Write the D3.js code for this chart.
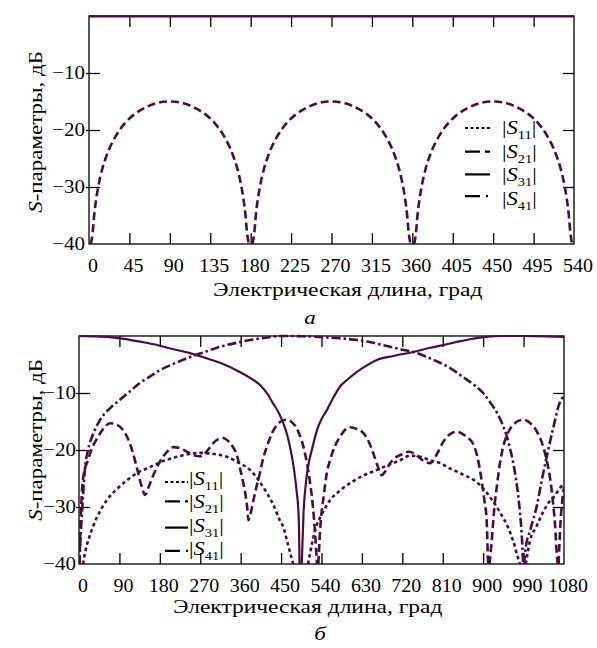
<!DOCTYPE html>
<html><head><meta charset="utf-8">
<script src="https://cdn.jsdelivr.net/npm/d3@7"></script>
<style>html,body{margin:0;padding:0;background:#fff}svg{display:block}</style>
</head><body>
<svg id="c" width="597" height="648"></svg>
<script>
// ---------- DATA ----------
const topXTicks = [0,45,90,135,180,225,270,315,360,405,450,495,540];
const botXTicks = [0,90,180,270,360,450,540,630,720,810,900,990,1080];
const yTicks = [-10,-20,-30,-40];
const seriesNames = ["S11","S21","S31","S41"];

// Chart "а": [electrical length, dB]
const topS21 = [
 [2,-40],[4,-38.1],[6,-34.6],[8,-32.1],[10,-30.2],[15,-26.7],[20,-24.3],[30,-21],[40,-18.8],[50,-17.3],[60,-16.3],[75,-15.3],[90,-15],
 [105,-15.3],[120,-16.3],[130,-17.3],[140,-18.8],[150,-21],[160,-24.3],[165,-26.7],[170,-30.2],[172,-32.1],[174,-34.6],[176,-38.1],[178,-40],[180,null],
 [182,-40],[184,-38.1],[186,-34.6],[188,-32.1],[190,-30.2],[195,-26.7],[200,-24.3],[210,-21],[220,-18.8],[230,-17.3],[240,-16.3],[255,-15.3],[270,-15],
 [285,-15.3],[300,-16.3],[310,-17.3],[320,-18.8],[330,-21],[340,-24.3],[345,-26.7],[350,-30.2],[352,-32.1],[354,-34.6],[356,-38.1],[358,-40],[360,null],
 [362,-40],[364,-38.1],[366,-34.6],[368,-32.1],[370,-30.2],[375,-26.7],[380,-24.3],[390,-21],[400,-18.8],[410,-17.3],[420,-16.3],[435,-15.3],[450,-15],
 [465,-15.3],[480,-16.3],[490,-17.3],[500,-18.8],[510,-21],[520,-24.3],[525,-26.7],[530,-30.2],[532,-32.1],[534,-34.6],[536,-38.1],[538,-40]
];
const topS31 = [[0,-0.05],[540,-0.05]];

// Chart "б": [electrical length, dB]
const botS11 = [
 [9,-40],[15,-37.5],[22,-35.5],[31,-33.5],[45,-31],[62,-28.8],[85,-26.8],[107,-25.3],[130,-24],[158,-23],[185,-22],[218,-21.2],[245,-20.7],[269,-20.5],
 [300,-20.7],[329,-21.2],[355,-22.2],[381,-23.5],[400,-25.3],[418,-27.5],[435,-30],[447,-32.3],[455,-33.5],[465,-36.5],[477,-40],[490,null],
 [510,-40],[520,-36],[528,-33.5],[537,-31.8],[548,-30.2],[559,-28.8],[580,-27.2],[604,-25.8],[630,-24.6],[663,-23.5],[690,-22.6],[715,-21.8],[737,-21],
 [760,-21.2],[782,-21.8],[804,-22.3],[825,-23.2],[842,-23.8],[860,-24.5],[878,-25.2],[895,-26.3],[908,-27.5],[920,-28.8],[938,-31],[955,-33.5],[967,-36],[976,-38.5],[982,-40],[988,null],
 [995,-40],[1004,-36],[1018,-33.5],[1033,-31],[1045,-29.3],[1056,-28.4],[1068,-27],[1080,-25.8]
];
const botS21 = [
 [1,-40],[3,-34],[6,-28],[10,-24.5],[20,-21.8],[30,-19.5],[40,-18],[55,-16.2],[69,-15.3],[85,-15.6],[98,-16.5],[110,-18.2],[120,-20.5],[130,-23.5],[140,-26.5],[147,-27.9],
 [155,-26.5],[165,-24.5],[177,-22.5],[187,-21.2],[200,-20],[210,-19.5],[225,-19.7],[240,-20.3],[255,-20.9],[269,-21.1],[285,-20.2],[299,-18.8],[310,-18.1],[321,-17.9],
 [333,-18.5],[343,-19.5],[352,-21],[358,-23],[365,-25.5],[370,-27.5],[375,-30.5],[377,-32.3],[381,-31.5],[388,-29],[395,-26.5],[403,-24],[410,-21.5],[418,-19.5],[430,-17],
 [441,-15.6],[452,-14.9],[463,-14.7],[475,-15.2],[485,-16.2],[492,-17.5],[500,-19.5],[508,-22.5],[515,-26],[521,-30],[526,-35],[530,-40],[531,null],
 [533,-40],[537,-34],[545,-28],[552,-24],[559,-21.8],[570,-19.3],[581,-17.7],[592,-16.5],[604,-16],[618,-16.3],[633,-17],[645,-18.5],[655,-20.5],[665,-22.8],[674,-24.4],
 [684,-23.5],[693,-22.3],[705,-21.3],[718,-20.8],[735,-20.3],[750,-20.8],[765,-21.8],[782,-22.3],[795,-21],[811,-18.6],[825,-17.3],[842,-16.8],[860,-17.5],[878,-19],
 [888,-21.5],[897,-25.6],[903,-29],[908,-32.6],[911,-39.6],[912,-40],[913,null],
 [914,-40],[919,-36],[925,-30],[930,-26.7],[937,-22.5],[944,-19.6],[955,-17],[967,-15.6],[978,-14.9],[989,-14.7],[1005,-15.3],[1020,-16.8],[1032,-19],[1042,-22],
 [1050,-25.5],[1056,-29.6],[1060,-33],[1064,-38.4],[1066,-40],[1067,null],
 [1068,-40],[1072,-33],[1076,-29],[1080,-26.5]
];
const botS31 = [
 [0,0],[30,-0.05],[69,-0.2],[100,-0.5],[136,-1.0],[170,-1.5],[203,-2.2],[247,-3.0],[280,-3.8],[314,-4.7],[358,-6.3],[380,-7.3],[403,-8.6],[420,-10.2],[432,-11.8],
 [445,-13.5],[455,-15.3],[463,-17.2],[470,-19.5],[476,-22],[481,-24.7],[485,-27.5],[488,-30],[490,-34],[491,-40],[493,null],
 [496,-40],[500,-31],[505,-26],[510,-23],[520,-19.5],[530,-16.5],[540,-14.6],[552,-13],[565,-11],[581,-8.9],[600,-7.5],[619,-6.3],[640,-5.2],[663,-4.2],[700,-3.5],
 [744,-2.8],[780,-2.1],[811,-1.6],[850,-0.9],[900,-0.2],[950,0],[989,0],[1040,-0.05],[1080,-0.15]
];
const botS41 = [
 [1,-40],[3,-36],[6,-32],[9,-28],[13,-23.5],[20,-20],[30,-17.5],[47,-14.7],[70,-12.6],[91,-11.2],[115,-9.6],[136,-8.2],[160,-7],[180,-6],[210,-4.9],[247,-3.7],
 [280,-2.8],[314,-1.9],[350,-1.2],[381,-0.7],[420,-0.25],[448,0],[470,0],[500,-0.05],[543,-0.2],[580,-0.4],[619,-0.7],[655,-1.2],[693,-1.9],[720,-2.4],[744,-2.8],
 [775,-3.7],[804,-4.7],[830,-5.8],[855,-7.2],[880,-8.6],[900,-10],[916,-11.7],[931,-13.5],[943,-15.5],[953,-17.7],[960,-19.8],[967,-22.3],[973,-25],[978,-28],
 [982,-31],[986,-35],[989,-40],[990,null],
 [991,-40],[995,-37],[1005,-34],[1020,-29.6],[1030,-25.5],[1042,-21],[1055,-16.5],[1071,-11.6],[1080,-10.5]
];

// ---------- DRAW ----------
const COL = "#4b0b46";
const FONT = "'Liberation Serif','Times New Roman',serif";
const styles = {
  S11: {dash:"3.5,3", w:2.6},
  S21: {dash:"8,4", w:2.6},
  S31: {dash:null, w:2.2},
  S41: {dash:"9,3,2.5,3", w:2.6}
};
const legendDash = {S11:"3,2.5", S21:"15,5", S31:null, S41:"15,6,2,10"};

const svg = d3.select("#c");

function txt(parent, x, y, anchor, fs, sy, rot) {
  return parent.append("text")
    .attr("transform", `translate(${x},${y})` + (rot ? ` rotate(${rot})` : "") + ` scale(1,${sy})`)
    .attr("text-anchor", anchor)
    .attr("font-family", FONT).attr("font-size", fs).attr("fill", "#000");
}

function chart(cfg) {
  const x = d3.scaleLinear().domain(cfg.xDomain).range([cfg.left, cfg.right]);
  const y = d3.scaleLinear().domain([-40, 0]).range([cfg.bottom, cfg.top]);
  const g = svg.append("g");
  const clipId = "clip" + cfg.id;
  svg.append("clipPath").attr("id", clipId).append("rect")
    .attr("x", cfg.left).attr("y", cfg.top - 3).attr("width", cfg.right - cfg.left).attr("height", cfg.bottom - cfg.top + 3);

  const xt = cfg.xTicks.slice(1, -1);
  g.append("g").attr("transform", `translate(0,${cfg.bottom})`)
    .call(d3.axisTop(x).tickValues(xt).tickSize(11).tickFormat(""))
    .call(a => a.select(".domain").remove());
  g.append("g").attr("transform", `translate(0,${cfg.top})`)
    .call(d3.axisBottom(x).tickValues(xt).tickSize(11).tickFormat(""))
    .call(a => a.select(".domain").remove());
  const yt = yTicks.filter(v => v > -40);
  g.append("g").attr("transform", `translate(${cfg.left - 3},0)`)
    .call(d3.axisRight(y).tickValues(yt).tickSize(14).tickFormat(""))
    .call(a => a.select(".domain").remove());
  g.append("g").attr("transform", `translate(${cfg.right},0)`)
    .call(d3.axisLeft(y).tickValues(yt).tickSize(11).tickFormat(""))
    .call(a => a.select(".domain").remove());
  g.selectAll(".tick line").attr("stroke", "#000").attr("stroke-width", 1.3);

  g.append("rect").attr("x", cfg.left).attr("y", cfg.top).attr("width", cfg.right - cfg.left)
    .attr("height", cfg.bottom - cfg.top).attr("fill", "none").attr("stroke", "#000").attr("stroke-width", 1.3);

  cfg.xTicks.forEach(v => {
    txt(g, x(v) + cfg.xLabOff, cfg.xLabY, "middle", 20, 0.9).text(v);
  });
  yTicks.forEach(v => {
    txt(g, cfg.left - cfg.yLabGap, y(v) + 6, "end", 21, 0.88).text("\u2212" + Math.abs(v));
  });

  const line = d3.line().defined(d => d[1] !== null).x(d => x(d[0])).y(d => y(d[1])).curve(d3.curveMonotoneX);
  const cg = g.append("g").attr("clip-path", `url(#${clipId})`);
  cfg.series.forEach(s => {
    const st = styles[s.name];
    const p = cg.append("path").datum(s.data).attr("d", line).attr("fill", "none")
      .attr("stroke", COL).attr("stroke-width", st.w).attr("stroke-linejoin", "round");
    if (st.dash) p.attr("stroke-dasharray", st.dash);
  });

  txt(g, cfg.xTitleX, cfg.xTitleY, "start", 23.5, 0.8).text("Электрическая длина, град");
  const yt1 = txt(g, cfg.yTitleX, cfg.yTitleY, "middle", 23, 0.8, -90);
  yt1.append("tspan").attr("font-style", "italic").text("S");
  yt1.append("tspan").text("-параметры, дБ");
  txt(g, cfg.capX, cfg.capY, "middle", 23, 0.85).attr("font-style", "italic").text(cfg.caption);

  seriesNames.forEach((n, i) => {
    const cy = cfg.legY + i * cfg.legStep;
    const l = g.append("line").attr("x1", cfg.legX1).attr("x2", cfg.legX2)
      .attr("y1", cy + cfg.legLineOff[i]).attr("y2", cy + cfg.legLineOff[i])
      .attr("stroke", "#000").attr("stroke-width", 2.2);
    if (legendDash[n]) l.attr("stroke-dasharray", legendDash[n]);
    const t = txt(g, cfg.legTX, cy + 6, "start", 22.5, 0.82);
    t.append("tspan").text("|");
    t.append("tspan").attr("font-style", "italic").text("S");
    t.append("tspan").attr("font-size", 14.5).attr("dy", 6).text(n.slice(1));
    t.append("tspan").attr("dy", -6).text("|");
  });
}

chart({
  id: "a", xDomain: [0, 540], left: 89, right: 574, top: 16, bottom: 244,
  xTicks: topXTicks, xLabOff: 4, xLabY: 272, yLabGap: 4,
  series: [{name: "S21", data: topS21}, {name: "S31", data: topS31}],
  xTitleX: 213, xTitleY: 296, yTitleX: 42, yTitleY: 132, caption: "а", capX: 310, capY: 324,
  legX1: 465, legX2: 490, legTX: 502, legY: 128, legStep: 23.7, legLineOff: [0, 0, -1, -3]
});
chart({
  id: "b", xDomain: [0, 1080], left: 79, right: 564, top: 336, bottom: 564,
  xTicks: botXTicks, xLabOff: 4, xLabY: 592, yLabGap: 3,
  series: [{name: "S11", data: botS11}, {name: "S21", data: botS21}, {name: "S31", data: botS31}, {name: "S41", data: botS41}],
  xTitleX: 173, xTitleY: 613, yTitleX: 42, yTitleY: 440, caption: "б", capX: 320, capY: 640,
  legX1: 165, legX2: 188, legTX: 189, legY: 479, legStep: 23.3, legLineOff: [3, -1, 2, 2]
});
</script>
</body></html>
